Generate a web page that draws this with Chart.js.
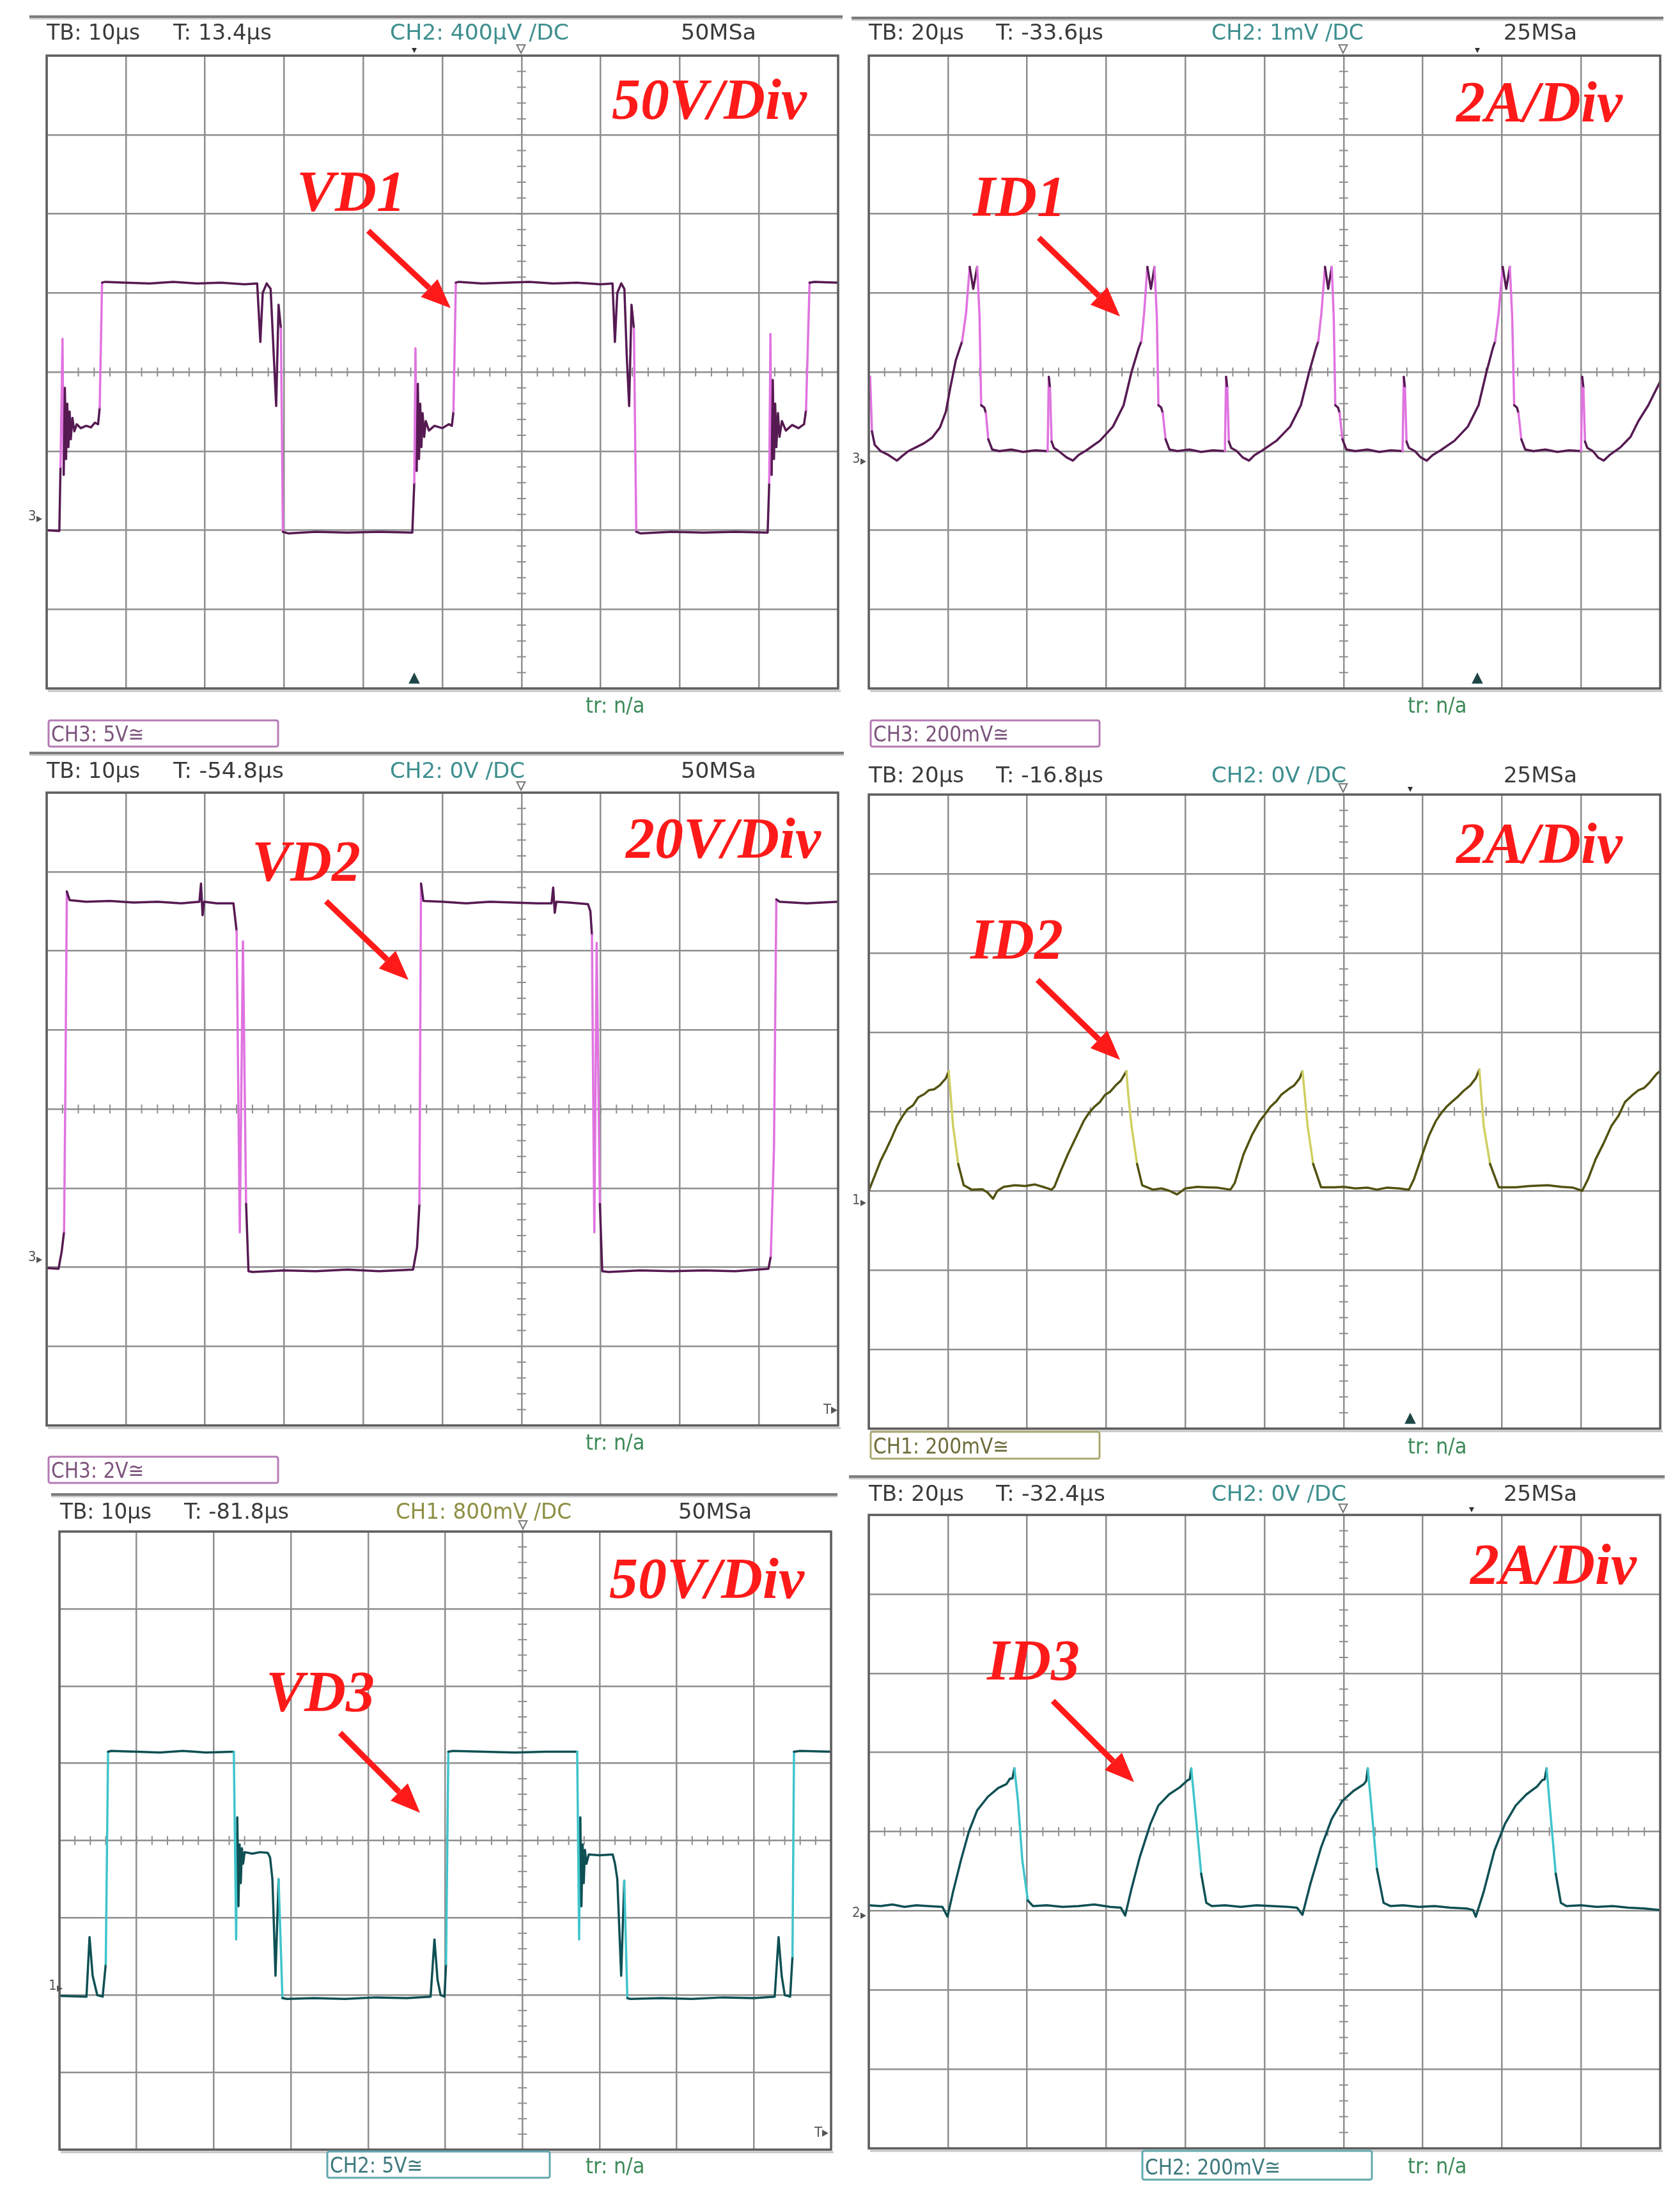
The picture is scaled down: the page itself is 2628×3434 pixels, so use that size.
<!DOCTYPE html>
<html>
<head>
<meta charset="utf-8">
<title>Scope captures VD/ID</title>
<script src="https://cdn.jsdelivr.net/npm/chart.js@4.4.1/dist/chart.umd.min.js"></script>
<style>
  body { margin: 0; background: #fff; }
  #page { position: relative; width: 2628px; height: 3434px; overflow: hidden; background: #fff; }
  canvas.scope { position: absolute; }
  #overlay { position: absolute; left: 0; top: 0; }
</style>
</head>
<body>
<div id="page"><svg id="overlay" width="2628" height="3434" xmlns="http://www.w3.org/2000/svg"></svg></div>
<script>
// =====================================
// Scope screens | six captures (VD1..VD3, ID1..ID3)
// time in µs, level in divisions from screen centre
// =====================================

// ---------- TRACES ----------
const vd1 = [
  [0,-2.0],[1.6,-2.01],[1.75,-1.2],[2.0,0.42],[2.15,-1.3],[2.3,-0.2],[2.45,-1.1],[2.6,-0.4],[2.75,-0.95],
  [2.9,-0.5],[3.05,-0.85],[3.25,-0.58],[3.5,-0.75],[3.8,-0.66],[4.3,-0.71],[5.0,-0.68],[5.6,-0.7],[6.1,-0.64],
  [6.5,-0.66],[6.7,-0.45],[7.0,1.13],[7.4,1.14],[10,1.13],[13,1.12],[16,1.14],[19,1.12],[22,1.13],[25,1.11],
  [26.6,1.12],[27.0,0.38],[27.3,1.0],[27.8,1.12],[28.3,1.05],[28.7,0.2],[29.0,-0.43],[29.3,0.85],[29.6,0.55],
  [29.85,-2.02],[30.5,-2.04],[34,-2.02],[38,-2.03],[42,-2.02],[46.2,-2.03],
  [46.45,-1.4],[46.6,0.3],[46.75,-1.25],[46.9,-0.15],[47.05,-1.1],[47.2,-0.4],[47.35,-0.95],[47.5,-0.52],
  [47.7,-0.82],[47.9,-0.62],[48.3,-0.74],[49.0,-0.68],[50.0,-0.71],[50.8,-0.66],[51.2,-0.68],[51.4,-0.5],
  [51.7,1.13],[52.1,1.14],[55,1.12],[58,1.13],[61,1.14],[64,1.12],[67,1.13],[70,1.11],[71.5,1.12],[71.8,0.38],
  [72.1,1.0],[72.6,1.12],[73.0,1.05],[73.3,0.2],[73.6,-0.43],[73.9,0.85],[74.2,0.55],[74.5,-2.02],[75,-2.04],
  [79,-2.02],[83,-2.03],[87,-2.02],[91.1,-2.03],
  [91.3,-1.4],[91.45,0.48],[91.6,-1.3],[91.75,-0.1],[91.9,-1.1],[92.05,-0.4],[92.2,-0.95],[92.4,-0.52],
  [92.6,-0.82],[92.9,-0.62],[93.4,-0.74],[94.2,-0.67],[95.0,-0.71],[95.7,-0.66],[95.95,-0.48],[96.4,1.13],
  [97,1.14],[100,1.13]
];

const id1 = [
  [0,-0.35],[0.35,-0.06],[0.8,-0.75],[1.5,-0.92],[3,-1.0],[5,-1.05],[7.1,-1.12],[8.5,-1.06],[10,-1.0],[12,-0.95],
  [14,-0.9],[16,-0.83],[18,-0.7],[19.5,-0.5],[20.6,-0.2],[22,0.15],[23.6,0.39],[24.6,0.75],[25.5,1.33],[26.4,1.05],
  [27.4,1.33],[28.0,0.7],[28.4,-0.42],[29.2,-0.45],[29.6,-0.52],[30.2,-0.85],[31.2,-0.98],[33,-1.0],[36,-0.98],
  [39,-1.01],[42,-0.99],[45.2,-1.0],[45.5,-0.06],[45.8,-0.2],[46.2,-0.88],[46.8,-0.96],[48,-1.0],[50,-1.08],
  [51.6,-1.12],[53,-1.05],[55,-0.99],[58.4,-0.87],[61.7,-0.69],[64.4,-0.42],[66.4,0.0],[68.2,0.3],[68.9,0.39],
  [69.6,0.75],[70.4,1.33],[71.3,1.05],[72.2,1.33],[72.8,0.7],[73.2,-0.42],[73.9,-0.45],[74.3,-0.52],[75.0,-0.85],
  [76.0,-0.98],[78,-1.0],[81,-0.98],[84,-1.01],[87,-0.99],[90.0,-1.0],[90.3,-0.06],[90.6,-0.2],[91.0,-0.88],
  [91.6,-0.96],[93,-1.0],[94.5,-1.08],[96.1,-1.12],[97.5,-1.05],[99.5,-0.99],[103,-0.87],[106.5,-0.69],
  [109.2,-0.42],[111.3,0.0],[113.0,0.3],[113.6,0.39],[114.4,0.75],[115.3,1.33],[116.1,1.05],[117.0,1.33],
  [117.5,0.7],[117.9,-0.42],[118.6,-0.45],[119.0,-0.52],[119.7,-0.85],[120.7,-0.98],[123,-1.0],[126,-0.98],
  [129,-1.01],[132,-0.99],[134.9,-1.0],[135.2,-0.06],[135.5,-0.2],[135.9,-0.88],[136.5,-0.96],[138,-1.0],
  [139.5,-1.08],[141.0,-1.12],[142.5,-1.05],[144.5,-0.99],[148,-0.87],[151.4,-0.69],[154.1,-0.42],[156.1,0.0],
  [157.7,0.3],[158.3,0.39],[159.2,0.75],[160.2,1.33],[161.1,1.05],[162.0,1.33],[162.6,0.7],[163.1,-0.42],
  [163.8,-0.45],[164.2,-0.52],[164.9,-0.85],[165.9,-0.98],[168,-1.0],[171,-0.98],[174,-1.01],[177,-0.99],
  [180.0,-1.0],[180.3,-0.06],[180.6,-0.2],[181.0,-0.88],[181.6,-0.96],[183,-1.0],[184.3,-1.08],[185.7,-1.12],
  [187.2,-1.05],[190,-0.95],[192.5,-0.82],[194.5,-0.62],[197,-0.42],[200,-0.12]
];

const vd2 = [
  [0,-2.01],[1.5,-2.02],[1.9,-1.8],[2.2,-1.55],[2.35,0.1],[2.55,2.75],[2.9,2.64],[5,2.62],[8,2.63],[11,2.61],
  [14,2.62],[17,2.6],[19.3,2.62],[19.5,2.85],[19.7,2.45],[19.9,2.62],[21.5,2.6],[23.6,2.6],[24.0,2.25],
  [24.4,-1.56],[24.8,2.12],[25.2,-1.2],[25.5,-2.05],[26,-2.06],[30,-2.04],[34,-2.05],[38,-2.03],[42,-2.05],
  [46.3,-2.03],[46.8,-1.75],[47.1,-1.2],[47.3,2.85],[47.6,2.63],[50,2.62],[53,2.6],[56,2.62],[59,2.61],[62,2.6],
  [63.8,2.6],[64.0,2.8],[64.2,2.48],[64.4,2.62],[66,2.61],[68.4,2.59],[68.7,2.5],[68.9,2.2],[69.2,-1.56],
  [69.5,2.1],[69.9,-1.2],[70.2,-2.05],[71,-2.06],[75,-2.04],[79,-2.05],[83,-2.04],[87,-2.05],[91.2,-2.02],
  [91.5,-1.86],[91.9,-0.5],[92.2,2.65],[92.6,2.62],[96,2.6],[100,2.62]
];

const id2 = [
  [0,-1.0],[1.75,-0.78],[3.0,-0.62],[4.4,-0.48],[5.8,-0.33],[7.1,-0.18],[8.5,-0.06],[9.8,0.03],[11.2,0.08],
  [12.5,0.18],[14,0.22],[15.2,0.27],[16.5,0.28],[17.9,0.33],[19.5,0.42],[20.2,0.51],[20.7,0.2],[21.3,-0.18],
  [22.6,-0.66],[24.0,-0.93],[26.0,-0.985],[28.7,-0.98],[30,-1.02],[31.4,-1.1],[32.5,-1.0],[34.1,-0.95],
  [37,-0.93],[39.5,-0.94],[42,-0.92],[44,-0.95],[46.2,-0.985],
  [46.9,-0.95],[48.5,-0.75],[50.3,-0.54],[52.3,-0.33],[54.3,-0.12],[55.6,-0.02],[57.0,0.06],[58.4,0.12],
  [59.7,0.21],[61,0.25],[62.4,0.33],[63.7,0.39],[65.1,0.51],[65.6,0.2],[66.4,-0.18],[67.8,-0.66],[69.1,-0.93],
  [71.8,-0.985],[74,-0.97],[76,-1.0],[77.9,-1.045],[80,-0.97],[83,-0.95],[85.3,-0.955],[88,-0.96],[91.4,-0.985],
  [92.5,-0.9],[94.7,-0.54],[96.8,-0.3],[98.8,-0.12],[100.2,-0.03],[101.5,0.06],[103,0.13],[104.2,0.21],
  [106,0.28],[107.5,0.33],[108.9,0.42],[109.6,0.51],[110.2,0.2],[110.9,-0.18],[112.3,-0.66],[114.3,-0.955],
  [117.7,-0.955],[120,-0.95],[123,-0.97],[126,-0.96],[128.4,-0.985],[131,-0.96],[134,-0.97],[136.5,-0.985],
  [137.8,-0.85],[139.9,-0.54],[141.6,-0.3],[143.3,-0.12],[144.8,-0.01],[146.0,0.06],[147.3,0.12],[148.7,0.18],
  [150.3,0.26],[152.0,0.33],[153.4,0.42],[154.3,0.53],[154.8,0.2],[155.4,-0.18],[157.0,-0.66],[159.2,-0.955],
  [163.5,-0.955],[167,-0.94],[171.6,-0.93],[175,-0.95],[178,-0.96],[180.3,-1.0],
  [181.8,-0.85],[183.7,-0.6],[185.7,-0.4],[187.7,-0.18],[189.5,-0.05],[191.1,0.12],[192.8,0.2],[194.5,0.27],
  [196,0.3],[197.2,0.36],[199.2,0.48],[200,0.51]
];

const vd3 = [
  [0,-2.01],[3.5,-2.02],[3.9,-1.25],[4.3,-1.75],[4.9,-2.0],[5.6,-2.02],[6.0,-1.6],[6.3,1.15],[6.7,1.16],
  [10,1.15],[13,1.14],[16,1.16],[19,1.14],[22.6,1.15],[22.9,-1.28],[23.05,0.3],[23.2,-0.85],[23.35,-0.05],
  [23.5,-0.55],[23.65,-0.1],[23.8,-0.3],[24.0,-0.15],[25,-0.17],[26,-0.15],[27.0,-0.16],[27.3,-0.22],
  [27.6,-0.5],[28.0,-1.75],[28.4,-0.5],[28.9,-2.04],[29.5,-2.05],[33,-2.04],[37,-2.05],[41,-2.03],[45,-2.04],
  [48.1,-2.02],[48.6,-1.28],[49.0,-1.8],[49.4,-2.0],[49.9,-2.02],[50.1,-1.6],[50.4,1.15],[51,1.16],[55,1.15],
  [59,1.14],[63,1.15],[67.1,1.15],[67.35,-1.28],[67.5,0.3],[67.65,-0.85],[67.8,-0.05],[67.95,-0.55],
  [68.1,-0.12],[68.3,-0.3],[68.6,-0.18],[70,-0.19],[71.7,-0.18],[72.0,-0.3],[72.3,-0.5],[72.8,-1.75],
  [73.2,-0.52],[73.6,-2.04],[74,-2.05],[78,-2.04],[82,-2.05],[86,-2.03],[90,-2.04],[92.7,-2.02],[93.2,-1.25],
  [93.6,-1.75],[94.0,-2.0],[94.7,-2.02],[95.0,-1.5],[95.2,1.15],[96,1.16],[100,1.15]
];

const id3 = [
  [0,-0.93],[3,-0.94],[6,-0.92],[9,-0.95],[12,-0.93],[15,-0.94],[18.6,-0.95],[19.9,-1.075],[21.3,-0.76],
  [23.3,-0.36],[25.3,0.0],[27.4,0.27],[30.1,0.44],[32.7,0.55],[34.8,0.6],[35.7,0.67],[36.3,0.67],[36.8,0.8],
  [37.7,0.39],[38.8,-0.36],[40.2,-0.87],[41.5,-0.94],[45,-0.93],[49,-0.95],[53,-0.94],[57,-0.92],[61,-0.95],
  [63.7,-0.96],[64.8,-1.06],[66.4,-0.72],[68.5,-0.32],[71.2,0.1],[73.2,0.33],[75.9,0.47],[78.6,0.56],
  [80.6,0.65],[81.1,0.66],[81.5,0.8],[82.6,0.22],[84.0,-0.53],[85.3,-0.9],[86.7,-0.94],[90,-0.93],[94,-0.95],
  [98,-0.93],[102,-0.94],[106,-0.95],[108.2,-0.96],[109.6,-1.05],[111.6,-0.66],[114.3,-0.2],[117.0,0.16],
  [119.7,0.39],[122.4,0.51],[125.1,0.6],[125.7,0.64],[126.1,0.8],[127.1,0.27],[128.4,-0.47],[130.1,-0.9],
  [131.8,-0.94],[135,-0.93],[139,-0.95],[143,-0.94],[147,-0.96],[151,-0.97],[152.7,-0.99],[153.4,-1.075],
  [155.4,-0.76],[158.1,-0.24],[160.8,0.1],[163.5,0.33],[166.2,0.47],[168.9,0.57],[170.2,0.65],[170.8,0.66],
  [171.3,0.8],[172.2,0.27],[173.6,-0.53],[174.9,-0.9],[176.3,-0.94],[180,-0.93],[184,-0.95],[188,-0.94],
  [192,-0.96],[196,-0.97],[200,-0.99]
];

// ---------- SCREEN TEXT ----------
const headerTB   = ["TB: 10µs", "TB: 20µs", "TB: 10µs", "TB: 20µs", "TB: 10µs", "TB: 20µs"];
const headerT    = ["T: 13.4µs", "T: -33.6µs", "T: -54.8µs", "T: -16.8µs", "T: -81.8µs", "T: -32.4µs"];
const headerCH   = ["CH2: 400µV /DC", "CH2: 1mV /DC", "CH2: 0V /DC", "CH2: 0V /DC", "CH1: 800mV /DC", "CH2: 0V /DC"];
const headerRate = ["50MSa", "25MSa", "50MSa", "25MSa", "50MSa", "25MSa"];
const scaleNote  = ["50V/Div", "2A/Div", "20V/Div", "2A/Div", "50V/Div", "2A/Div"];
const traceName  = ["VD1", "ID1", "VD2", "ID2", "VD3", "ID3"];
const chBoxText  = ["CH3: 5V≅", "CH3: 200mV≅", "CH3: 2V≅", "CH1: 200mV≅", "CH2: 5V≅", "CH2: 200mV≅"];
const groundTag  = ["3", "3", "3", "1", "1", "2"];
const timeSpan   = [100, 200, 100, 200, 100, 200];   // µs across 10 divisions
const traces     = [vd1, id1, vd2, id2, vd3, id3];

// ---------- LAYOUT (page pixels) ----------
const PINK  = { light: "#e073e0", dark: "#561a52", box: "#b57ab5", txt: "#7d557d" };
const OLIVE = { light: "#cfcf62", dark: "#525210", box: "#aaa870", txt: "#6e6e3c" };
const TEAL  = { light: "#3fc4cc", dark: "#0f5054", box: "#62a8ae", txt: "#3d7a7e" };

const layout = [
  { box: [73, 87, 1238, 990], sep: [46, 26, 1318], headY: 62, headX: [73, 271, 610, 1065], headW: [146, 154, 280, 118],
    chColor: "#3f8f8f", note: [957, 186], name: [464, 330], arrow: [576, 361, 705, 482], tr: [916, 1115],
    chBox: [76, 1127, 359, 41], col: PINK, jump: 1.3, ground: [44, 806], hollow: 815, small: 648, bottomTri: 648 },
  { box: [1359, 87, 1238, 990], sep: [1332, 28, 2602], headY: 62, headX: [1359, 1558, 1895, 2352], headW: [149, 168, 238, 115],
    chColor: "#3f8f8f", note: [2278, 190], name: [1522, 338], arrow: [1625, 372, 1752, 495], tr: [2202, 1115],
    chBox: [1362, 1127, 358, 41], col: PINK, jump: 0.3, ground: [1333, 716], hollow: 2101, small: 2311, bottomTri: 2311 },
  { box: [73, 1240, 1238, 990], sep: [46, 1178, 1320], headY: 1217, headX: [73, 271, 610, 1065], headW: [146, 173, 211, 118],
    chColor: "#3f8f8f", note: [979, 1342], name: [394, 1378], arrow: [510, 1410, 639, 1533], tr: [916, 2268],
    chBox: [76, 2279, 359, 41], col: PINK, jump: 1.3, ground: [44, 1965], hollow: 815, tMark: [1288, 2212] },
  { box: [1359, 1243, 1238, 992], sep: null, headY: 1224, headX: [1359, 1558, 1895, 2352], headW: [149, 168, 211, 115],
    chColor: "#3f8f8f", note: [2278, 1350], name: [1518, 1500], arrow: [1623, 1533, 1752, 1658], tr: [2202, 2274],
    chBox: [1362, 2240, 358, 42], col: OLIVE, jump: 0.3, ground: [1333, 1876], hollow: 2101, small: 2206, bottomTri: 2206 },
  { box: [93, 2396, 1207, 967], sep: [80, 2338, 1310], headY: 2376, headX: [94, 288, 619, 1061], headW: [143, 164, 275, 115],
    chColor: "#8f8f45", note: [953, 2500], name: [416, 2677], arrow: [532, 2711, 657, 2836], tr: [916, 3400],
    chBox: [512, 3366, 348, 41], col: TEAL, jump: 1.3, ground: [76, 3105], hollow: 818, tMark: [1274, 3343] },
  { box: [1359, 2370, 1238, 991], sep: [1328, 2310, 2604], headY: 2348, headX: [1359, 1558, 1895, 2352], headW: [149, 171, 211, 115],
    chColor: "#3f8f8f", note: [2300, 2478], name: [1544, 2628], arrow: [1647, 2661, 1774, 2788], tr: [2202, 3400],
    chBox: [1787, 3365, 359, 45], col: TEAL, jump: 0.3, ground: [1333, 2991], hollow: 2101, small: 2302 }
];

const SANS  = "'DejaVu Sans Condensed','DejaVu Sans',sans-serif";
const SERIF = "'Liberation Serif','Times New Roman',serif";
const GRID  = "#8e8e8e";

// ---------- CHART PLUGIN: centre-axis ticks + frame ----------
const scopeFrame = {
  id: "scopeFrame",
  beforeDatasetsDraw(chart, args, opts) {
    const { ctx, scales: { x, y } } = chart;
    const y0 = y.getPixelForValue(0);
    const x0 = x.getPixelForValue(opts.axisAt);
    ctx.save();
    ctx.strokeStyle = GRID;
    ctx.lineWidth = 2;
    const stepX = (x.max - x.min) / 50;
    for (let i = 1; i < 50; i++) {
      const px = x.getPixelForValue(x.min + i * stepX);
      ctx.beginPath(); ctx.moveTo(px, y0 - 7); ctx.lineTo(px, y0 + 7); ctx.stroke();
    }
    for (let i = 1; i < 40; i++) {
      const py = y.getPixelForValue(-4 + i * 0.2);
      ctx.beginPath(); ctx.moveTo(x0 - 7, py); ctx.lineTo(x0 + 7, py); ctx.stroke();
    }
    ctx.restore();
  },
  afterDraw(chart) {
    const { ctx, chartArea: a } = chart;
    ctx.save();
    ctx.strokeStyle = "#c4c4c4";
    ctx.lineWidth = 3;
    ctx.beginPath(); ctx.moveTo(a.left + 2, a.bottom + 4); ctx.lineTo(a.right + 4, a.bottom + 4); ctx.stroke();
    ctx.strokeStyle = "#5e5e5e";
    ctx.lineWidth = 3.5;
    ctx.strokeRect(a.left, a.top, a.right - a.left, a.bottom - a.top);
    ctx.restore();
  }
};

function segColor(c, L) {
  const dx = Math.abs(c.p1.x - c.p0.x);
  const dy = Math.abs(c.p1.y - c.p0.y);
  const divPx = L.box[3] / 8;
  return (dy > 6 * dx && dy > L.jump * divPx) ? L.col.light : L.col.dark;
}

const page = document.getElementById("page");
const overlay = document.getElementById("overlay");

function makeScope(i) {
  const L = layout[i];
  const pad = 12;
  const [bx, by, bw, bh] = L.box;
  const cv = document.createElement("canvas");
  cv.className = "scope";
  cv.width = bw + 2 * pad;
  cv.height = bh + 2 * pad;
  cv.style.left = (bx - pad) + "px";
  cv.style.top = (by - pad) + "px";
  page.insertBefore(cv, overlay);

  const span = timeSpan[i];
  new Chart(cv.getContext("2d"), {
    type: "scatter",
    data: {
      datasets: [{
        data: traces[i].map(([t, v]) => ({ x: t, y: v })),
        showLine: true,
        pointRadius: 0,
        borderWidth: 3.5,
        borderColor: L.col.dark,
        borderJoinStyle: "round",
        borderCapStyle: "round",
        segment: { borderColor: (c) => segColor(c, L) }
      }]
    },
    options: {
      responsive: false,
      animation: false,
      events: [],
      layout: { padding: pad },
      plugins: {
        legend: { display: false },
        tooltip: { enabled: false },
        scopeFrame: { axisAt: span * 0.6 }
      },
      scales: {
        x: {
          type: "linear", min: 0, max: span,
          ticks: { display: false, stepSize: span / 10 },
          grid: { color: GRID, lineWidth: 2.5, drawTicks: false },
          border: { display: false }
        },
        y: {
          type: "linear", min: -4, max: 4,
          ticks: { display: false, stepSize: 1 },
          grid: { color: GRID, lineWidth: 2.5, drawTicks: false },
          border: { display: false }
        }
      }
    },
    plugins: [scopeFrame]
  });
}

// ---------- OVERLAY: captions, arrows, markers ----------
function txt(x, y, s, size, fill, extra) {
  return `<text x="${x}" y="${y}" font-family="${SANS}" font-stretch="condensed" font-size="${size}" fill="${fill}" ${extra || ""}>${s}</text>`;
}

function triangle(x, y, s, up, fill, stroke) {
  const pts = up
    ? `${x},${y - s} ${x - s * 0.8},${y + s * 0.6} ${x + s * 0.8},${y + s * 0.6}`
    : `${x},${y + s} ${x - s * 0.8},${y - s * 0.6} ${x + s * 0.8},${y - s * 0.6}`;
  return `<polygon points="${pts}" fill="${fill}" stroke="${stroke || "none"}" stroke-width="2"/>`;
}

function arrow(x1, y1, x2, y2) {
  const a = Math.atan2(y2 - y1, x2 - x1);
  const hl = 46, hw = 19;
  const bx = x2 - hl * Math.cos(a), by = y2 - hl * Math.sin(a);
  const s = Math.sin(a), c = Math.cos(a);
  return `<line x1="${x1}" y1="${y1}" x2="${bx}" y2="${by}" stroke="#ff1a1a" stroke-width="9"/>` +
    `<polygon points="${x2},${y2} ${bx + hw * s},${by - hw * c} ${bx - hw * s},${by + hw * c}" fill="#ff1a1a"/>`;
}

let svg = "";
layout.forEach((L, i) => {
  const [bx, by, bw, bh] = L.box;
  if (L.sep) {
    svg += `<line x1="${L.sep[0]}" y1="${L.sep[1] + 3}" x2="${L.sep[2]}" y2="${L.sep[1] + 3}" stroke="#c8c8c8" stroke-width="3"/>`;
    svg += `<line x1="${L.sep[0]}" y1="${L.sep[1]}" x2="${L.sep[2]}" y2="${L.sep[1]}" stroke="#7c7c7c" stroke-width="4"/>`;
  }
  const hs = [headerTB[i], headerT[i], headerCH[i], headerRate[i]];
  hs.forEach((s, k) => {
    const fill = k === 2 ? L.chColor : "#3a3a3a";
    svg += txt(L.headX[k], L.headY, s, 34, fill, `textLength="${L.headW[k]}" lengthAdjust="spacingAndGlyphs"`);
  });

  // trigger / position markers
  svg += triangle(L.hollow, by - 12, 8, false, "#ffffff", "#777");
  if (L.small) svg += triangle(L.small, by - 9, 5, false, "#333");
  if (L.bottomTri) svg += triangle(L.bottomTri, by + bh - 14, 11, true, "#1e4646");
  if (L.tMark) svg += txt(L.tMark[0], L.tMark[1], "T▸", 22, "#555");

  // ground reference tag
  const gy = L.ground[1];
  svg += txt(L.ground[0], gy + 8, groundTag[i], 22, "#555");
  svg += `<polygon points="${L.ground[0] + 13},${gy + 1} ${L.ground[0] + 22},${gy + 6} ${L.ground[0] + 13},${gy + 11}" fill="#555"/>`;

  // bottom line: channel box and rise time
  const [cx, cy, cw, ch] = L.chBox;
  svg += `<rect x="${cx}" y="${cy}" width="${cw}" height="${ch}" rx="3" fill="#fff" stroke="${L.col.box}" stroke-width="3"/>`;
  svg += txt(cx + 4, cy + ch - 8, chBoxText[i], 33, L.col.txt);
  svg += txt(L.tr[0], L.tr[1], "tr: n/a", 34, "#3d8a58");

  // red annotations
  svg += `<text x="${L.note[0]}" y="${L.note[1]}" font-family="${SERIF}" font-weight="bold" font-style="italic" font-size="90" fill="#ff1a1a">${scaleNote[i]}</text>`;
  svg += `<text x="${L.name[0]}" y="${L.name[1]}" font-family="${SERIF}" font-weight="bold" font-style="italic" font-size="90" fill="#ff1a1a">${traceName[i]}</text>`;
  svg += arrow(...L.arrow);
});
overlay.innerHTML = svg;

layout.forEach((L, i) => makeScope(i));
</script>
</body>
</html>
